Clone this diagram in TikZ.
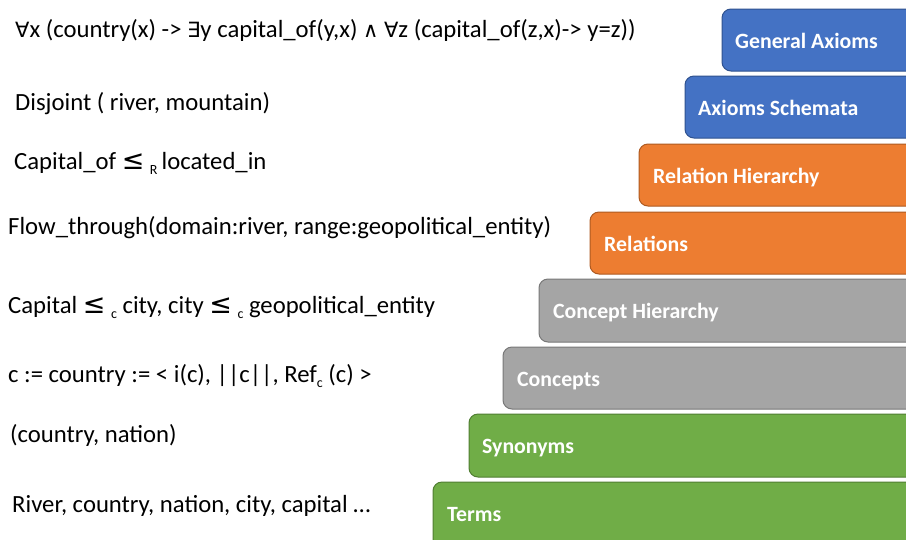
\documentclass[tikz,border=0pt]{standalone}
\usepackage{fontspec}
\setmainfont{Carlito}
\newfontfamily\symfont{DejaVu Sans}
\newcommand{\lowidx}[1]{\raisebox{-5pt}{\fontsize{14}{14}\selectfont #1}}
\newcommand{\sym}[1]{{\symfont\fontsize{21}{24}\selectfont #1}}
\newcommand{\lesseq}{{\symfont\fontsize{27}{28}\selectfont ≤}}
\definecolor{axblue}{HTML}{4472C4}
\definecolor{axblueline}{HTML}{2F528F}
\definecolor{relorange}{HTML}{ED7D31}
\definecolor{relorangeline}{HTML}{AE5A21}
\definecolor{congray}{HTML}{A5A5A5}
\definecolor{congrayline}{HTML}{787878}
\definecolor{termgreen}{HTML}{70AD47}
\definecolor{termgreenline}{HTML}{507E32}
\begin{document}
\begin{tikzpicture}[x=1pt,y=-1pt,
  layer/.style={rounded corners=9pt, line width=1pt},
  layerlabel/.style={anchor=base west, inner sep=0pt, text=white,
    font=\fontsize{21.8}{24}\selectfont\bfseries},
  example/.style={anchor=base west, inner sep=0pt,
    font=\fontsize{24.7}{28}\selectfont}]
\useasboundingbox (0,0) rectangle (906,539);
\fill[white] (0,0) rectangle (906,539);
% stacked layers, running off the right edge
\begin{scope}
\clip (0,0) rectangle (906,539);
\draw[layer, fill=axblue, draw=axblueline]       (722,9)   rectangle (940,71);
\draw[layer, fill=axblue, draw=axblueline]       (685,76)  rectangle (940,138);
\draw[layer, fill=relorange, draw=relorangeline] (639,144) rectangle (940,206);
\draw[layer, fill=relorange, draw=relorangeline] (590,212) rectangle (940,274);
\draw[layer, fill=congray, draw=congrayline]     (539,279) rectangle (940,342);
\draw[layer, fill=congray, draw=congrayline]     (503,347) rectangle (940,409);
\draw[layer, fill=termgreen, draw=termgreenline] (469,414) rectangle (940,477);
\draw[layer, fill=termgreen, draw=termgreenline] (433,482) rectangle (940,560);
\end{scope}
% layer names
\node[layerlabel] (ga) at (735,48)  {General Axioms};
\node[layerlabel] (as) at (698,115) {Axioms Schemata};
\node[layerlabel] (rh) at (653,183) {Relation Hierarchy};
\node[layerlabel] (re) at (604,251) {Relations};
\node[layerlabel] (ch) at (553,318) {Concept Hierarchy};
\node[layerlabel] (co) at (517,386) {Concepts};
\node[layerlabel] (sy) at (482,453) {Synonyms};
\node[layerlabel] (te) at (447,521) {Terms};
% examples for each layer
\node[example] (e1) at (15,37)  {\sym{∀}x (country(x) -> \sym{∃}y capital\_of(y,x) \sym{∧} \sym{∀}z (capital\_of(z,x)-> y=z))};
\node[example] (e2) at (15,110) {Disjoint ( river, mountain)};
\node[example] (e3) at (14,169) {Capital\_of \lesseq{} \lowidx{R}\,located\_in};
\node[example] (e4) at (8,234)  {Flow\_through(domain:river, range:geopolitical\_entity)};
\node[example] (e5) at (8,313)  {Capital \lesseq{} \lowidx{c} city, city \lesseq{} \lowidx{c} geopolitical\_entity};
\node[example] (e6) at (8,382)  {c := country := < i(c), ||c||, Ref\lowidx{c} (c) >};
\node[example] (e7) at (10,442) {(country, nation)};
\node[example] (e8) at (12,512) {River, country, nation, city, capital …};
\end{tikzpicture}
\end{document}
